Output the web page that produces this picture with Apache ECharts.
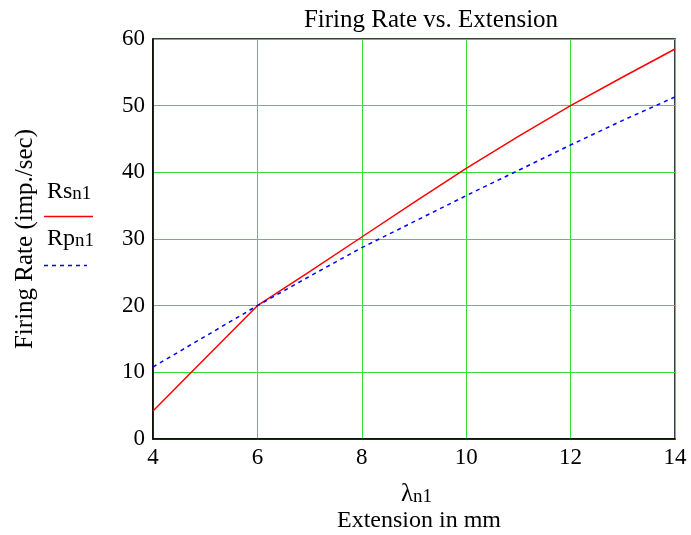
<!DOCTYPE html>
<html><head><meta charset="utf-8">
<script src="https://cdn.jsdelivr.net/npm/echarts@6/dist/echarts.min.js"></script>
<style>html,body{margin:0;padding:0;background:#fff}#c{width:691px;height:535px}</style>
</head><body><div id="c"></div>
<script>
const xValues = [4, 5, 6, 7, 8, 9, 10, 11, 12, 13, 14];
const rsValues = [4.2, 12.1, 20.0, 25.1, 30.3, 35.5, 40.6, 45.4, 50.0, 54.3, 58.5];
const rpValues = [10.8, 15.4, 20.0, 24.4, 28.7, 32.6, 36.5, 40.3, 44.1, 47.8, 51.3];
const xTicks = [4, 6, 8, 10, 12, 14];
const yTicks = [0, 10, 20, 30, 40, 50, 60];

const FONT = '"Liberation Serif", "Times New Roman", serif';
const chart = echarts.init(document.getElementById('c'), null, {renderer: 'canvas'});
const L = 153, T = 39, W = 522, H = 400;
const sub = {m: {fontFamily: FONT, fontSize: 24, fill: '#000', verticalAlign: 'bottom'},
             s: {fontFamily: FONT, fontSize: 19, fill: '#000', padding: [9, 0, 0, 0], verticalAlign: 'bottom'}};
chart.setOption({
  animation: false,
  title: {text: 'Firing Rate vs. Extension', left: 426, top: 3, textAlign: 'center',
    textStyle: {fontFamily: FONT, fontSize: 25, fontWeight: 'normal', color: '#000'}},
  grid: {left: L, top: T, width: W, height: H, show: true, borderColor: '#000', borderWidth: 1.5, backgroundColor: 'transparent'},
  xAxis: {type: 'value', min: 4, max: 14, interval: 2,
    axisLine: {show: true, onZero: false, lineStyle: {color: '#000', width: 1.5}},
    axisTick: {show: false},
    splitLine: {show: true, lineStyle: {color: '#33e033', width: 1}},
    axisLabel: {fontFamily: FONT, fontSize: 23, color: '#000', margin: 7,
      formatter: v => xTicks.includes(v) ? String(v) : ''}},
  yAxis: {type: 'value', min: 0, max: 60, interval: 10,
    axisLine: {show: true, lineStyle: {color: '#000', width: 1.5}},
    axisTick: {show: false},
    splitLine: {show: true, lineStyle: {color: '#33e033', width: 1}},
    axisLabel: {fontFamily: FONT, fontSize: 23, color: '#000', margin: 8,
      formatter: v => yTicks.includes(v) ? String(v) : ''}},
  series: [
    {type: 'line', name: 'Rs', data: xValues.map((x, i) => [x, rsValues[i]]), showSymbol: false,
      lineStyle: {color: '#ff0000', width: 1.5}, z: 3},
    {type: 'line', name: 'Rp', data: xValues.map((x, i) => [x, rpValues[i]]), showSymbol: false,
      lineStyle: {color: '#0000ff', width: 1.5, type: [4, 4]}, z: 4}
  ],
  graphic: [
    {type: 'text', x: 25, y: 239, rotation: Math.PI / 2, style: {text: 'Firing Rate (imp./sec)', fontFamily: FONT, fontSize: 25, fill: '#000', align: 'center', verticalAlign: 'middle'}},
    {type: 'text', x: 47, y: 176, style: {text: '{m|Rs}{s|n1}', rich: sub}},
    {type: 'line', shape: {x1: 44, y1: 216.5, x2: 93, y2: 216.5}, style: {stroke: '#ff0000', lineWidth: 1.5}},
    {type: 'text', x: 47, y: 223, style: {text: '{m|Rp}{s|n1}', rich: sub}},
    {type: 'line', shape: {x1: 44, y1: 265.5, x2: 87, y2: 265.5}, style: {stroke: '#0000ff', lineWidth: 1.5, lineDash: [4, 4]}},
    {type: 'text', x: 401, y: 478, style: {text: '{m|λ}{s|n1}', rich: {m: {fontFamily: FONT, fontSize: 25, fill: '#000', verticalAlign: 'bottom'}, s: {fontFamily: FONT, fontSize: 19, fill: '#000', padding: [10, 0, 0, 0], verticalAlign: 'bottom'}}}},
    {type: 'text', x: 419, y: 521, style: {text: 'Extension in mm', fontFamily: FONT, fontSize: 24, fill: '#000', align: 'center', verticalAlign: 'middle'}}
  ]
});
</script></body></html>
